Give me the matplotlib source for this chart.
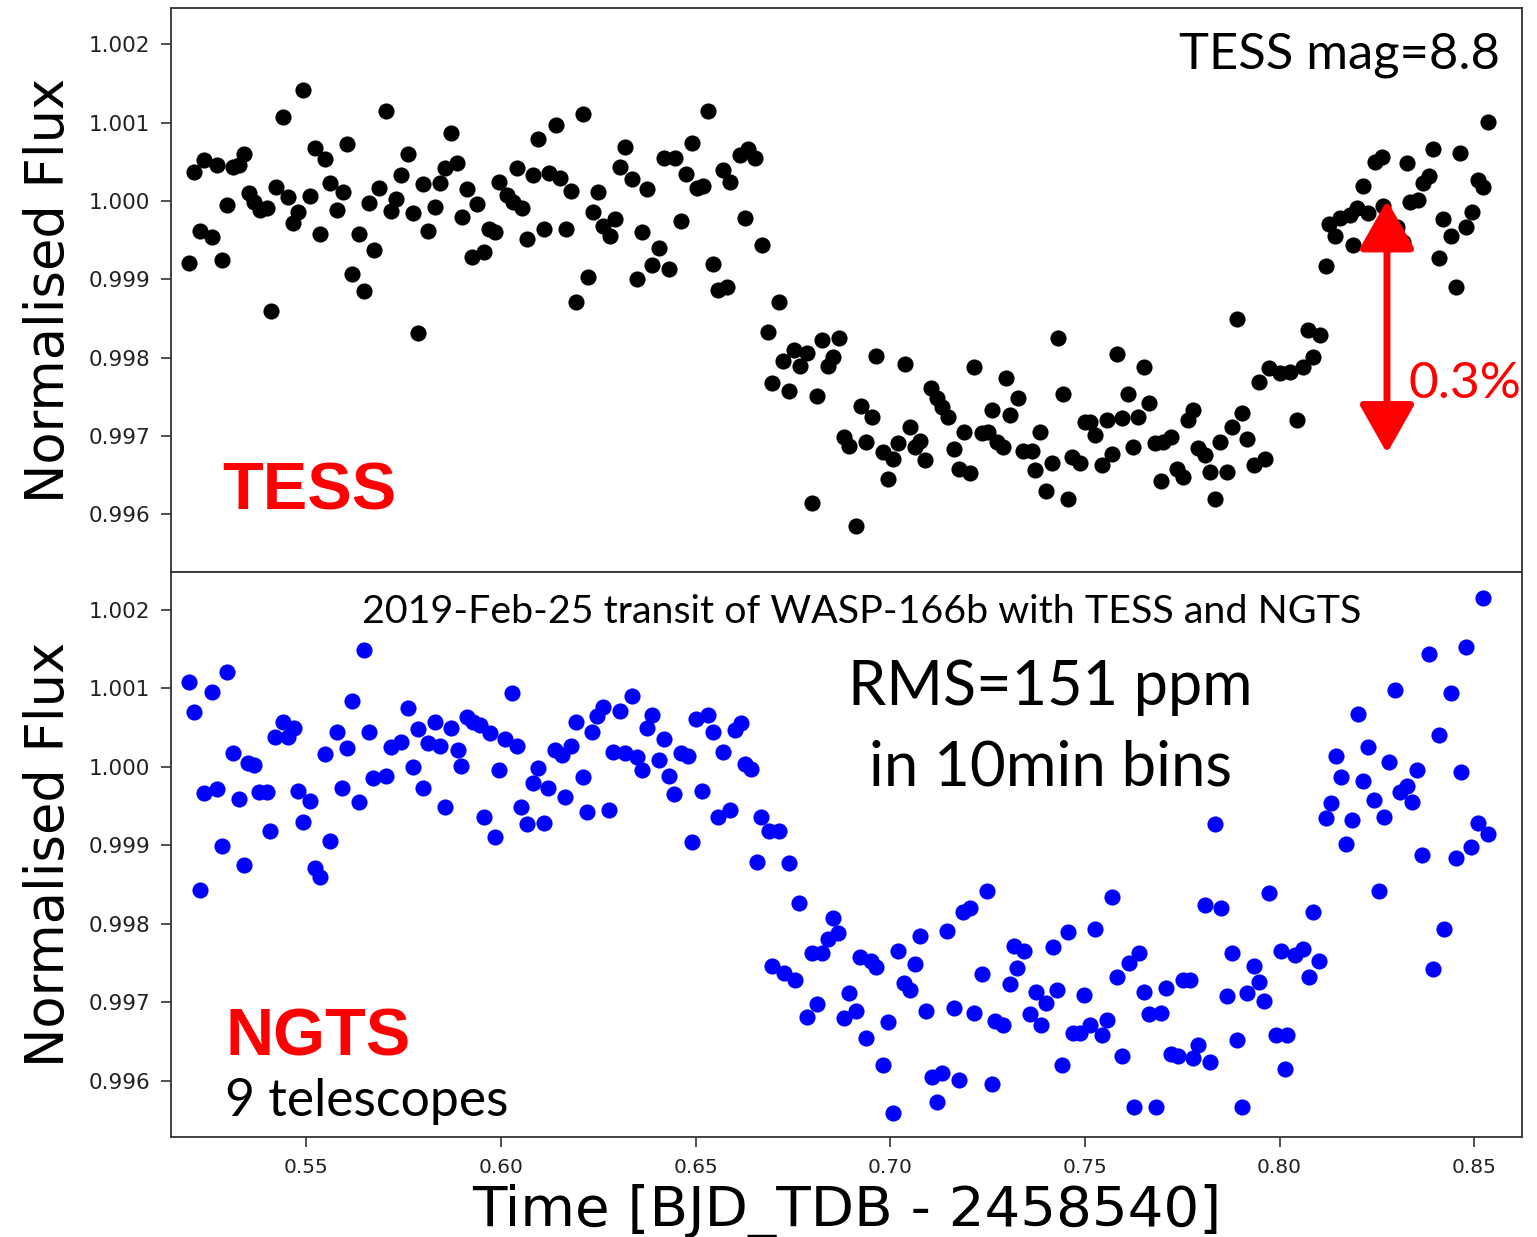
import matplotlib
matplotlib.use("Agg")
import matplotlib.pyplot as plt

# TESS light curve (time, normalised flux)
tess_time = [
    0.5199, 0.5212, 0.5228, 0.5238, 0.5259, 0.5271, 0.5284, 0.5297, 0.5312, 0.5328,
    0.5341, 0.5354, 0.5366, 0.5382, 0.5400, 0.5410, 0.5423, 0.5441, 0.5454, 0.5467,
    0.5479, 0.5492, 0.5510, 0.5523, 0.5536, 0.5549, 0.5562, 0.5580, 0.5595, 0.5605,
    0.5618, 0.5636, 0.5649, 0.5662, 0.5675, 0.5687, 0.5705, 0.5718, 0.5731, 0.5744,
    0.5762, 0.5775, 0.5788, 0.5800, 0.5813, 0.5831, 0.5844, 0.5857, 0.5872, 0.5888,
    0.5901, 0.5913, 0.5926, 0.5939, 0.5957, 0.5970, 0.5985, 0.5996, 0.6016, 0.6032,
    0.6042, 0.6055, 0.6068, 0.6083, 0.6096, 0.6111, 0.6124, 0.6142, 0.6152, 0.6168,
    0.6181, 0.6193, 0.6211, 0.6224, 0.6237, 0.6250, 0.6263, 0.6281, 0.6294, 0.6306,
    0.6319, 0.6337, 0.6350, 0.6363, 0.6376, 0.6389, 0.6407, 0.6419, 0.6432, 0.6448,
    0.6463, 0.6476, 0.6491, 0.6504, 0.6520, 0.6533, 0.6545, 0.6558, 0.6571, 0.6581,
    0.6589, 0.6615, 0.6628, 0.6635, 0.6653, 0.6671, 0.6687, 0.6697, 0.6715, 0.6725,
    0.6741, 0.6753, 0.6769, 0.6787, 0.6800, 0.6812, 0.6825, 0.6841, 0.6854, 0.6869,
    0.6882, 0.6895, 0.6913, 0.6925, 0.6938, 0.6954, 0.6964, 0.6982, 0.6995, 0.7008,
    0.7021, 0.7038, 0.7051, 0.7064, 0.7077, 0.7090, 0.7105, 0.7121, 0.7134, 0.7149,
    0.7164, 0.7177, 0.7190, 0.7205, 0.7216, 0.7236, 0.7252, 0.7262, 0.7275, 0.7290,
    0.7298, 0.7308, 0.7329, 0.7342, 0.7365, 0.7372, 0.7385, 0.7401, 0.7416, 0.7431,
    0.7444, 0.7457, 0.7467, 0.7488, 0.7501, 0.7514, 0.7527, 0.7545, 0.7557, 0.7570,
    0.7583, 0.7596, 0.7611, 0.7624, 0.7637, 0.7652, 0.7665, 0.7681, 0.7696, 0.7701,
    0.7722, 0.7737, 0.7753, 0.7765, 0.7778, 0.7791, 0.7809, 0.7822, 0.7835, 0.7848,
    0.7866, 0.7878, 0.7891, 0.7904, 0.7917, 0.7935, 0.7948, 0.7963, 0.7973, 0.8002,
    0.8027, 0.8045, 0.8061, 0.8074, 0.8086, 0.8104, 0.8120, 0.8128, 0.8143, 0.8156,
    0.8181, 0.8189, 0.8199, 0.8215, 0.8228, 0.8246, 0.8264, 0.8266, 0.8302, 0.8318,
    0.8328, 0.8336, 0.8356, 0.8369, 0.8384, 0.8395, 0.8410, 0.8420, 0.8441, 0.8454,
    0.8464, 0.8479, 0.8495, 0.8510, 0.8523, 0.8536,
]
tess_flux = [
    0.99921, 1.00037, 0.99962, 1.00052, 0.99954, 1.00046, 0.99925, 0.99995, 1.00043, 1.00046,
    1.00060, 1.00010, 0.99999, 0.99989, 0.99991, 0.99860, 1.00018, 1.00107, 1.00005, 0.99972,
    0.99986, 1.00142, 1.00006, 1.00068, 0.99958, 1.00054, 1.00023, 0.99989, 1.00011, 1.00073,
    0.99907, 0.99958, 0.99885, 0.99997, 0.99937, 1.00017, 1.00115, 0.99987, 1.00003, 1.00033,
    1.00060, 0.99985, 0.99831, 1.00022, 0.99962, 0.99992, 1.00023, 1.00042, 1.00087, 1.00049,
    0.99980, 1.00015, 0.99929, 0.99996, 0.99935, 0.99964, 0.99960, 1.00024, 1.00008, 0.99999,
    1.00042, 0.99991, 0.99951, 1.00033, 1.00079, 0.99964, 1.00036, 1.00097, 1.00029, 0.99964,
    1.00013, 0.99871, 1.00111, 0.99903, 0.99986, 1.00011, 0.99968, 0.99955, 0.99977, 1.00043,
    1.00069, 1.00028, 0.99900, 0.99960, 1.00015, 0.99918, 0.99940, 1.00055, 0.99913, 1.00055,
    0.99974, 1.00034, 1.00074, 1.00017, 1.00019, 1.00115, 0.99920, 0.99886, 1.00040, 0.99890,
    1.00024, 1.00059, 0.99978, 1.00066, 1.00055, 0.99944, 0.99833, 0.99768, 0.99871, 0.99796,
    0.99757, 0.99810, 0.99789, 0.99806, 0.99614, 0.99751, 0.99823, 0.99789, 0.99801, 0.99825,
    0.99699, 0.99687, 0.99585, 0.99738, 0.99692, 0.99724, 0.99802, 0.99680, 0.99645, 0.99671,
    0.99691, 0.99792, 0.99712, 0.99686, 0.99694, 0.99669, 0.99761, 0.99749, 0.99737, 0.99724,
    0.99683, 0.99658, 0.99705, 0.99653, 0.99788, 0.99704, 0.99705, 0.99733, 0.99692, 0.99686,
    0.99774, 0.99727, 0.99749, 0.99681, 0.99681, 0.99657, 0.99705, 0.99630, 0.99666, 0.99825,
    0.99754, 0.99620, 0.99673, 0.99666, 0.99718, 0.99718, 0.99701, 0.99663, 0.99720, 0.99677,
    0.99805, 0.99723, 0.99754, 0.99686, 0.99724, 0.99788, 0.99742, 0.99691, 0.99643, 0.99692,
    0.99699, 0.99658, 0.99648, 0.99720, 0.99733, 0.99685, 0.99676, 0.99654, 0.99620, 0.99692,
    0.99654, 0.99712, 0.99849, 0.99729, 0.99696, 0.99663, 0.99769, 0.99671, 0.99787, 0.99780,
    0.99782, 0.99720, 0.99788, 0.99835, 0.99801, 0.99829, 0.99917, 0.99971, 0.99955, 0.99978,
    0.99982, 0.99944, 0.99991, 1.00019, 0.99985, 1.00050, 1.00056, 0.99994, 0.99967, 0.99948,
    1.00049, 0.99999, 1.00001, 1.00023, 1.00032, 1.00066, 0.99927, 0.99977, 0.99955, 0.99890,
    1.00061, 0.99967, 0.99986, 1.00027, 1.00018, 1.00101,
]

# NGTS light curve, 10 min bins
ngts_time = [
    0.5199, 0.5212, 0.5228, 0.5238, 0.5259, 0.5271, 0.5284, 0.5297, 0.5312, 0.5328,
    0.5341, 0.5351, 0.5366, 0.5379, 0.5400, 0.5408, 0.5420, 0.5441, 0.5454, 0.5469,
    0.5479, 0.5492, 0.5510, 0.5523, 0.5536, 0.5549, 0.5562, 0.5580, 0.5592, 0.5605,
    0.5618, 0.5636, 0.5649, 0.5662, 0.5672, 0.5705, 0.5718, 0.5744, 0.5762, 0.5775,
    0.5788, 0.5800, 0.5813, 0.5831, 0.5844, 0.5857, 0.5872, 0.5890, 0.5898, 0.5913,
    0.5929, 0.5947, 0.5957, 0.5973, 0.5985, 0.5996, 0.6011, 0.6029, 0.6042, 0.6052,
    0.6068, 0.6083, 0.6096, 0.6111, 0.6122, 0.6140, 0.6158, 0.6165, 0.6181, 0.6193,
    0.6211, 0.6222, 0.6235, 0.6247, 0.6263, 0.6278, 0.6288, 0.6306, 0.6319, 0.6337,
    0.6350, 0.6363, 0.6376, 0.6389, 0.6407, 0.6419, 0.6432, 0.6445, 0.6463, 0.6481,
    0.6491, 0.6502, 0.6517, 0.6533, 0.6545, 0.6558, 0.6571, 0.6589, 0.6602, 0.6617,
    0.6628, 0.6643, 0.6658, 0.6669, 0.6689, 0.6697, 0.6715, 0.6728, 0.6741, 0.6756,
    0.6766, 0.6787, 0.6800, 0.6812, 0.6825, 0.6841, 0.6854, 0.6866, 0.6882, 0.6895,
    0.6913, 0.6923, 0.6938, 0.6951, 0.6964, 0.6982, 0.6995, 0.7008, 0.7021, 0.7036,
    0.7051, 0.7064, 0.7077, 0.7092, 0.7108, 0.7121, 0.7134, 0.7146, 0.7164, 0.7177,
    0.7187, 0.7205, 0.7216, 0.7236, 0.7249, 0.7262, 0.7270, 0.7290, 0.7308, 0.7318,
    0.7326, 0.7344, 0.7360, 0.7375, 0.7388, 0.7401, 0.7419, 0.7429, 0.7442, 0.7457,
    0.7470, 0.7488, 0.7498, 0.7514, 0.7527, 0.7545, 0.7557, 0.7570, 0.7583, 0.7596,
    0.7614, 0.7627, 0.7640, 0.7652, 0.7665, 0.7683, 0.7696, 0.7709, 0.7722, 0.7740,
    0.7753, 0.7771, 0.7778, 0.7791, 0.7809, 0.7822, 0.7835, 0.7850, 0.7866, 0.7878,
    0.7891, 0.7904, 0.7917, 0.7935, 0.7948, 0.7961, 0.7973, 0.7991, 0.8004, 0.8015,
    0.8020, 0.8040, 0.8061, 0.8076, 0.8086, 0.8102, 0.8120, 0.8133, 0.8146, 0.8158,
    0.8171, 0.8187, 0.8202, 0.8215, 0.8228, 0.8243, 0.8256, 0.8269, 0.8282, 0.8297,
    0.8310, 0.8328, 0.8341, 0.8354, 0.8366, 0.8384, 0.8395, 0.8410, 0.8423, 0.8441,
    0.8454, 0.8467, 0.8479, 0.8492, 0.8510, 0.8523, 0.8536,
]
ngts_flux = [
    1.00108, 1.00070, 0.99843, 0.99967, 1.00096, 0.99972, 0.99899, 1.00121, 1.00018, 0.99959,
    0.99875, 1.00005, 1.00003, 0.99968, 0.99968, 0.99918, 1.00038, 1.00057, 1.00038, 1.00050,
    0.99969, 0.99930, 0.99957, 0.99871, 0.99860, 1.00017, 0.99906, 1.00045, 0.99973, 1.00024,
    1.00084, 0.99955, 1.00149, 1.00045, 0.99986, 0.99989, 1.00025, 1.00032, 1.00075, 1.00000,
    1.00048, 0.99973, 1.00031, 1.00057, 1.00027, 0.99949, 1.00050, 1.00022, 1.00001, 1.00064,
    1.00057, 1.00054, 0.99936, 1.00043, 0.99911, 0.99996, 1.00036, 1.00094, 1.00027, 0.99949,
    0.99927, 0.99980, 0.99999, 0.99929, 0.99973, 1.00022, 1.00015, 0.99962, 1.00027, 1.00057,
    0.99987, 0.99943, 1.00045, 1.00065, 1.00076, 0.99945, 1.00019, 1.00071, 1.00018, 1.00090,
    1.00013, 0.99996, 1.00050, 1.00066, 1.00009, 1.00036, 0.99989, 0.99966, 1.00018, 1.00014,
    0.99904, 1.00061, 0.99969, 1.00066, 1.00045, 0.99936, 1.00019, 0.99945, 1.00047, 1.00056,
    1.00004, 0.99997, 0.99879, 0.99936, 0.99918, 0.99746, 0.99918, 0.99738, 0.99878, 0.99729,
    0.99827, 0.99682, 0.99763, 0.99698, 0.99763, 0.99781, 0.99808, 0.99789, 0.99680, 0.99712,
    0.99689, 0.99758, 0.99655, 0.99753, 0.99745, 0.99620, 0.99675, 0.99559, 0.99766, 0.99725,
    0.99716, 0.99749, 0.99785, 0.99689, 0.99605, 0.99573, 0.99610, 0.99791, 0.99693, 0.99601,
    0.99815, 0.99820, 0.99687, 0.99736, 0.99842, 0.99596, 0.99676, 0.99671, 0.99724, 0.99772,
    0.99744, 0.99766, 0.99685, 0.99713, 0.99671, 0.99699, 0.99771, 0.99716, 0.99620, 0.99790,
    0.99661, 0.99661, 0.99710, 0.99671, 0.99794, 0.99659, 0.99678, 0.99834, 0.99732, 0.99632,
    0.99750, 0.99567, 0.99763, 0.99713, 0.99685, 0.99567, 0.99687, 0.99718, 0.99634, 0.99632,
    0.99729, 0.99729, 0.99629, 0.99646, 0.99824, 0.99624, 0.99927, 0.99820, 0.99708, 0.99763,
    0.99652, 0.99567, 0.99712, 0.99746, 0.99726, 0.99702, 0.99839, 0.99659, 0.99766, 0.99615,
    0.99659, 0.99760, 0.99768, 0.99732, 0.99815, 0.99753, 0.99935, 0.99954, 1.00014, 0.99987,
    0.99902, 0.99932, 1.00068, 0.99982, 1.00025, 0.99958, 0.99842, 0.99936, 1.00006, 1.00098,
    0.99968, 0.99976, 0.99955, 0.99996, 0.99888, 1.00144, 0.99743, 1.00041, 0.99794, 1.00094,
    0.99884, 0.99994, 1.00153, 0.99898, 0.99929, 1.00215, 0.99915,
]

xticks = [0.55, 0.60, 0.65, 0.70, 0.75, 0.80, 0.85]
yticks = [0.996, 0.997, 0.998, 0.999, 1.000, 1.001, 1.002]
depth_top, depth_bottom = 1.00001, 0.99678   # the "0.3%" arrow
arrow_time = 0.8276

note_font = ["Lato", "DejaVu Sans"]

fig = plt.figure(figsize=(15.37, 12.37), dpi=100)
ax1 = fig.add_axes([0.1113, 0.5376, 0.8790, 0.4559])
ax2 = fig.add_axes([0.1113, 0.0808, 0.8790, 0.4568], sharex=ax1)

ax1.scatter(tess_time, tess_flux, s=135, c="black", linewidths=0)
ax2.scatter(ngts_time, ngts_flux, s=135, c="blue", linewidths=0)

ax1.set_xlim(0.5153, 0.8623)
ax1.set_ylim(0.995264, 1.002464)
ax2.set_ylim(0.995286, 1.002484)

for ax in (ax1, ax2):
    ax.set_yticks(yticks)
    ax.set_yticklabels([f"{v:.3f}" for v in yticks])
    ax.tick_params(axis="both", labelsize=14.5, length=7, width=1.1,
                   pad=8, colors="#222222")
    ax.tick_params(axis="y", labelsize=15.5)
    ax.set_ylabel("Normalised Flux", fontsize=38, labelpad=10)
    for sp in ax.spines.values():
        sp.set_color("#333333")
        sp.set_linewidth(1.3)

ax1.tick_params(axis="x", bottom=False, labelbottom=False)
ax2.set_xticks(xticks)
ax2.set_xticklabels([f"{v:.2f}" for v in xticks])
ax2.set_xlabel("Time [BJD_TDB - 2458540]", fontsize=40.5, labelpad=5)

# annotations on the TESS panel
ax1.text(0.9837, 0.917, "TESS mag=8.8", transform=ax1.transAxes,
         ha="right", va="center", fontsize=36.5, family=note_font)
ax1.text(0.0377, 0.110, "TESS", transform=ax1.transAxes, ha="left",
         va="baseline", fontsize=48, fontweight="bold", color="red",
         family="Liberation Sans")
ax1.annotate("", xy=(arrow_time, depth_top), xytext=(arrow_time, depth_bottom),
             arrowprops=dict(arrowstyle="<|-|>,head_length=1.5,head_width=0.85",
                             color="red", lw=5, shrinkA=0, shrinkB=0,
                             mutation_scale=20))
ax1.text(0.9156, 0.333, "0.3%", transform=ax1.transAxes, ha="left",
         va="center", fontsize=37, color="red", family=note_font)

# annotations on the NGTS panel
ax2.text(0.5115, 0.929, "2019-Feb-25 transit of WASP-166b with TESS and NGTS",
         transform=ax2.transAxes, ha="center", va="center", fontsize=28.4,
         family=note_font)
ax2.text(0.6506, 0.7947, "RMS=151 ppm", transform=ax2.transAxes,
         ha="center", va="center", fontsize=44, family=note_font)
ax2.text(0.6506, 0.6531, "in 10min bins", transform=ax2.transAxes,
         ha="center", va="center", fontsize=44.5, family=note_font)
ax2.text(0.040, 0.145, "NGTS", transform=ax2.transAxes, ha="left",
         va="baseline", fontsize=48, fontweight="bold", color="red",
         family="Liberation Sans")
ax2.text(0.040, 0.063, "9 telescopes", transform=ax2.transAxes, ha="left",
         va="center", fontsize=37.3, family=note_font)

fig.savefig("out.png", dpi=100)
